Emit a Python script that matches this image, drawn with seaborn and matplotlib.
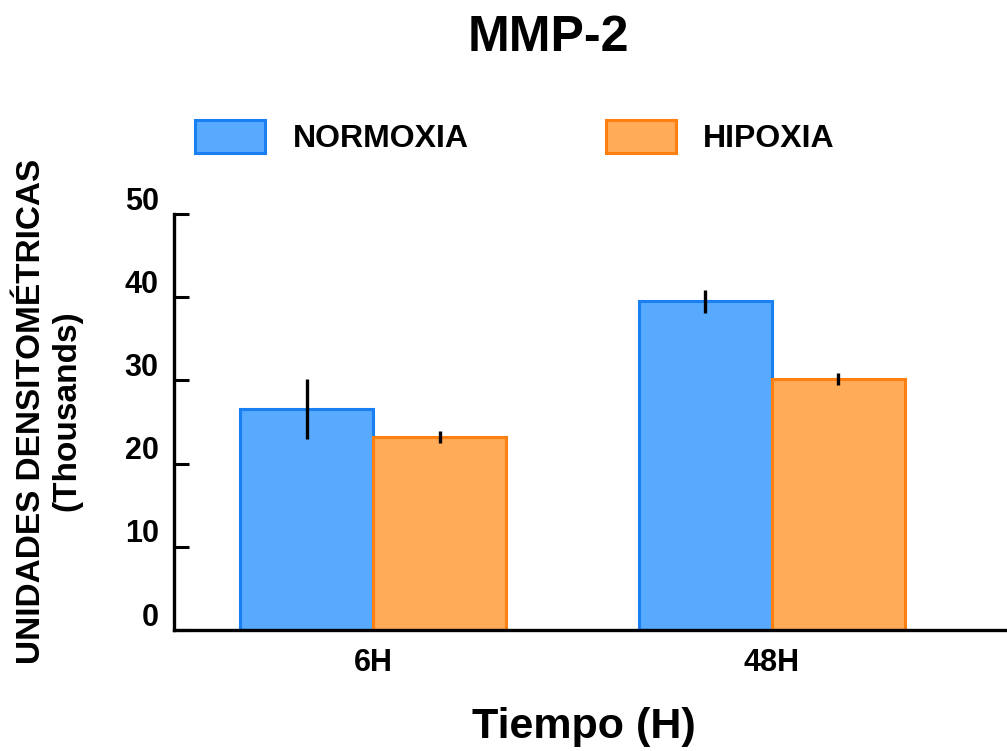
import matplotlib
matplotlib.use("Agg")
import matplotlib.pyplot as plt
import matplotlib.transforms as mtransforms
import seaborn as sns
import pandas as pd
import numpy as np

categories = ["6H", "48H"]
groups = ["NORMOXIA", "HIPOXIA"]
normoxia = [26.6, 39.5]
hipoxia = [23.2, 30.2]
normoxia_err = [3.6, 1.4]
hipoxia_err = [0.7, 0.7]
yticks = [0, 10, 20, 30, 40, 50]

sns.set_theme(style="white")
plt.rcParams["font.family"] = ["Liberation Sans", "DejaVu Sans"]
plt.rcParams["font.weight"] = "bold"
for k in ["text.color", "axes.labelcolor", "xtick.color", "ytick.color"]:
    plt.rcParams[k] = "black"

df = pd.DataFrame({
    "Tiempo": categories * 2,
    "Grupo": [groups[0]] * 2 + [groups[1]] * 2,
    "Valor": normoxia + hipoxia,
})

fill_colors = {"NORMOXIA": "#58aaff", "HIPOXIA": "#ffab58"}
edge_colors = {"NORMOXIA": "#1a7ff0", "HIPOXIA": "#ff8010"}

fig = plt.figure(figsize=(10.07, 7.51), dpi=100)
ax = fig.add_axes([174/1007, (751-630)/751, 1 - 174/1007, (630-214)/751])

sns.barplot(data=df, x="Tiempo", y="Valor", hue="Grupo", order=categories,
            hue_order=groups, palette=fill_colors, errorbar=None, width=0.667,
            saturation=1, ax=ax)

errs = [normoxia_err, hipoxia_err]
vals = [normoxia, hipoxia]
bar_containers = list(ax.containers)
for gi, cont in enumerate(bar_containers):
    for bi, patch in enumerate(cont.patches):
        patch.set_edgecolor(edge_colors[groups[gi]])
        patch.set_linewidth(2.2)
        cx = patch.get_x() + patch.get_width() / 2
        ax.errorbar(cx, vals[gi][bi], yerr=errs[gi][bi], color="black",
                    elinewidth=2.4, capsize=0, fmt="none", zorder=5)

ax.set_xlim(-0.5, 1.59)
ax.set_ylim(0, 50)
ax.set_yticks(yticks)
ax.set_yticklabels([str(v) for v in yticks], fontsize=22, fontweight="bold")
ax.tick_params(axis="y", direction="in", length=11, width=2.2, color="black",
               pad=11, left=True)
ax.tick_params(axis="x", length=0, pad=13, labelsize=22)
for lab in ax.get_xticklabels():
    lab.set_fontweight("bold")
offset = mtransforms.ScaledTranslation(0, 16/100, fig.dpi_scale_trans)
for lab in ax.get_yticklabels():
    lab.set_transform(lab.get_transform() + offset)

for s in ["top", "right"]:
    ax.spines[s].set_visible(False)
for s in ["left", "bottom"]:
    ax.spines[s].set_color("black")
    ax.spines[s].set_linewidth(2.4)

ax.set_xlabel("Tiempo (H)", fontsize=31, fontweight="bold")
ax.xaxis.label.set_va("center")
ax.xaxis.set_label_coords((584-174)/833, (630-727)/416)
ax.set_ylabel("UNIDADES DENSITOMÉTRICAS\n(Thousands)", fontsize=24,
              fontweight="bold", linespacing=1.2)
ax.yaxis.label.set_va("center")
ax.yaxis.set_label_coords((49-174)/833, (630-411)/416)
fig.text(548/1007, 1 - 38/751, "MMP-2", ha="center", va="center", fontsize=36,
         fontweight="bold")

handles, labels = ax.get_legend_handles_labels()
for h, g in zip(handles, groups):
    h.set_edgecolor(edge_colors[g])
    h.set_linewidth(2.2)
leg = ax.legend(handles, labels, ncol=2, loc="center left",
                bbox_to_anchor=(195/1007, (751-137)/751),
                bbox_transform=fig.transFigure, frameon=False,
                fontsize=23, handlelength=2.2, handleheight=1.2,
                handletextpad=0.85, columnspacing=4.3, borderpad=0,
                borderaxespad=0)
for t in leg.get_texts():
    t.set_fontweight("bold")

fig.savefig("out.png", dpi=100, facecolor="white")
